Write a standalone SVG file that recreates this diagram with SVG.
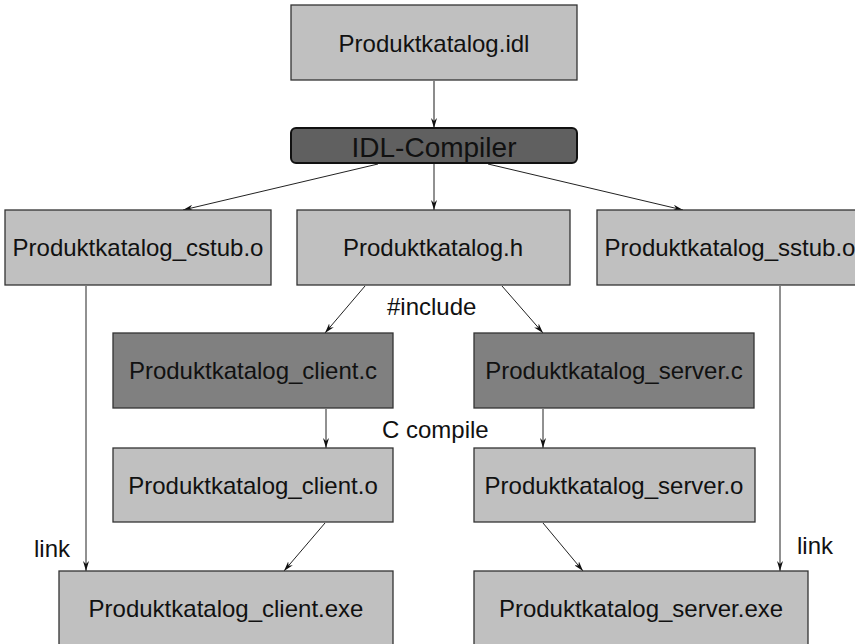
<svg xmlns="http://www.w3.org/2000/svg" width="855" height="644" viewBox="0 0 855 644">
  <style>
    .box { fill: #c0c0c0; stroke: #333; stroke-width: 1.3; }
    .src { fill: #808080; stroke: #333; stroke-width: 1.3; }
    .tool { fill: #606060; stroke: #111; stroke-width: 2; }
    .t { font-family: "Liberation Sans", Arial, Helvetica, sans-serif; font-size: 24px; fill: #111; text-anchor: middle; }
    .lbl { font-family: "Liberation Sans", Arial, Helvetica, sans-serif; font-size: 24px; fill: #111; }
    .big { font-size: 28px; }
    .edge { stroke: #222; stroke-width: 1; fill: none; marker-end: url(#arr); }
    .edge.g { stroke: #666; stroke-width: 1.5; }
  </style>
  <defs>
    <marker id="arr" viewBox="0 0 10 6" refX="10" refY="3" markerWidth="10" markerHeight="6" markerUnits="userSpaceOnUse" orient="auto">
      <path d="M0,0 L10,3 L0,6 L3,3 Z" fill="#111"/>
    </marker>
  </defs>

  <rect width="855" height="644" fill="#fff"/>

  <g id="connectors">
    <line class="edge g" x1="434" y1="81" x2="434" y2="128"/>
    <line class="edge" x1="434" y1="164" x2="434" y2="210"/>
    <line class="edge" x1="378" y1="164" x2="183" y2="210"/>
    <line class="edge" x1="488" y1="164" x2="683" y2="210"/>
    <line class="edge" x1="365" y1="286" x2="325" y2="333"/>
    <line class="edge" x1="502" y1="286" x2="543" y2="333"/>
    <line class="edge" x1="326" y1="409" x2="326" y2="448"/>
    <line class="edge" x1="543" y1="409" x2="543" y2="448"/>
    <line class="edge" x1="86" y1="286" x2="86" y2="571"/>
    <line class="edge" x1="780" y1="286" x2="780" y2="571"/>
    <line class="edge" x1="325" y1="523" x2="284" y2="571"/>
    <line class="edge" x1="543" y1="523" x2="583" y2="571"/>
  </g>

  <g id="idl">
    <rect class="box" x="291" y="5" width="286" height="75"/>
    <text class="t" x="434" y="52">Produktkatalog.idl</text>
  </g>
  <g id="compiler">
    <rect class="tool" x="291" y="128" width="286" height="35" rx="5"/>
    <text class="t big" x="434" y="157">IDL-Compiler</text>
  </g>
  <g id="cstub">
    <rect class="box" x="5" y="210" width="266" height="75"/>
    <text class="t" x="138" y="256">Produktkatalog_cstub.o</text>
  </g>
  <g id="header">
    <rect class="box" x="297" y="210" width="273" height="75"/>
    <text class="t" x="433" y="256">Produktkatalog.h</text>
  </g>
  <g id="sstub">
    <rect class="box" x="597" y="210" width="266" height="75"/>
    <text class="t" x="730" y="256">Produktkatalog_sstub.o</text>
  </g>
  <g id="client-c">
    <rect class="src" x="113" y="333" width="280" height="75"/>
    <text class="t" x="253" y="379">Produktkatalog_client.c</text>
  </g>
  <g id="server-c">
    <rect class="src" x="474" y="333" width="280" height="75"/>
    <text class="t" x="614" y="379">Produktkatalog_server.c</text>
  </g>
  <g id="client-o">
    <rect class="box" x="113" y="448" width="280" height="74"/>
    <text class="t" x="253" y="494">Produktkatalog_client.o</text>
  </g>
  <g id="server-o">
    <rect class="box" x="474" y="448" width="281" height="74"/>
    <text class="t" x="614" y="494">Produktkatalog_server.o</text>
  </g>
  <g id="client-exe">
    <rect class="box" x="59" y="571" width="334" height="80"/>
    <text class="t" x="226" y="617">Produktkatalog_client.exe</text>
  </g>
  <g id="server-exe">
    <rect class="box" x="474" y="571" width="334" height="80"/>
    <text class="t" x="641" y="617">Produktkatalog_server.exe</text>
  </g>

  <g id="labels">
    <text class="lbl" x="387" y="315">#include</text>
    <text class="lbl" x="382" y="438">C compile</text>
    <text class="lbl" x="34" y="557">link</text>
    <text class="lbl" x="797" y="554">link</text>
  </g>
</svg>
